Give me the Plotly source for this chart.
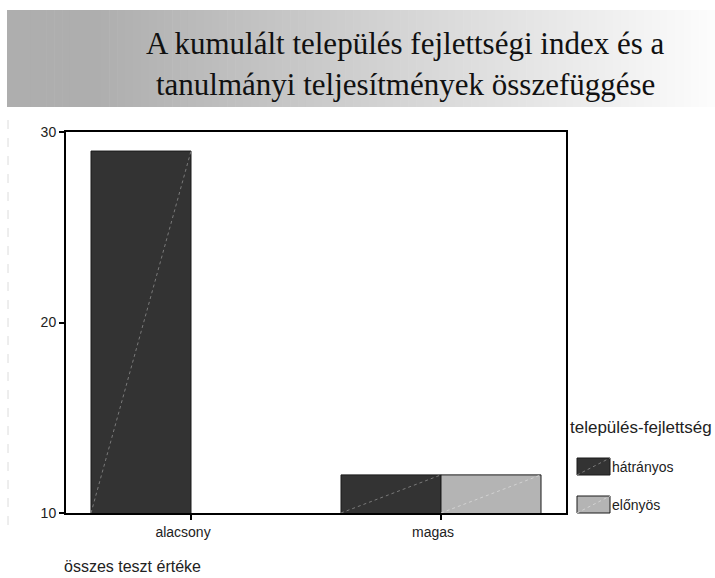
import plotly.graph_objects as go

# ---- data ----
categories = ["alacsony", "magas"]
series_names = ["hátrányos", "előnyös"]
hatranyos = [29, 12]
elonyos = [None, 12]
series_values = [hatranyos, elonyos]
y_ticks = [10, 20, 30]
y_range = [10, 30]

title_lines = ["A kumulált település fejlettségi index és a",
               "tanulmányi teljesítmények összefüggése"]
legend_title = "település-fejlettség"
footer = "összes teszt értéke"

colors = ["#333333", "#b4b4b4"]
diag_colors = ["#7a7a7a", "#d2d2d2"]

W, H = 715, 578
ML, MR, MT, MB = 66, 149, 132, 65
PW, PH = W - ML - MR, H - MT - MB


def px(x):
    return (x - ML) / PW


def py(y):
    return (H - MB - y) / PH


SANS = "Liberation Sans, Arial, sans-serif"
SERIF = "Liberation Serif, Times New Roman, serif"

fig = go.Figure()
for name, vals, col in zip(series_names, series_values, colors):
    fig.add_trace(go.Bar(
        x=categories, y=vals, name=name,
        marker=dict(color=col, line=dict(color="#1a1a1a", width=1)),
        showlegend=False,
    ))

shapes = []

# gradient banner behind the title
n_strips = 90
bx0, bx1, by0, by1 = 7, 715, 10, 107
for i in range(n_strips):
    t = i / (n_strips - 1)
    if t < 0.12:
        g = 174
    else:
        g = int(174 + (252 - 174) * ((t - 0.12) / 0.88))
    xa = bx0 + (bx1 - bx0) * i / n_strips
    xb = bx0 + (bx1 - bx0) * (i + 1) / n_strips + 0.6
    shapes.append(dict(type="rect", xref="paper", yref="paper",
                       x0=px(xa), x1=px(xb), y0=py(by1), y1=py(by0),
                       fillcolor=f"rgb({g},{g},{g})", line=dict(width=0),
                       layer="below"))

# faint dashed rule along the left edge
shapes.append(dict(type="line", xref="paper", yref="paper",
                   x0=px(8), x1=px(8), y0=py(120), y1=py(530),
                   line=dict(color="#dcdcdc", width=1, dash="dash")))

# diagonal hatch line inside each bar
group_width = 0.8
bar_w = group_width / len(series_names)
for s, vals in enumerate(series_values):
    for c, v in enumerate(vals):
        if v is None:
            continue
        x0 = c - group_width / 2 + s * bar_w
        shapes.append(dict(type="line", xref="x", yref="y",
                           x0=x0, x1=x0 + bar_w, y0=y_range[0], y1=v,
                           line=dict(color=diag_colors[s], width=1, dash="dot")))

# custom legend swatches
sw_x0, sw_x1 = 577, 610
sw_rows = [(458, 475), (496, 513)]
annotations = []
for (ya, yb), col, dcol, name in zip(sw_rows, colors, diag_colors, series_names):
    shapes.append(dict(type="rect", xref="paper", yref="paper",
                       x0=px(sw_x0), x1=px(sw_x1), y0=py(yb), y1=py(ya),
                       fillcolor=col, line=dict(color="#1a1a1a", width=1)))
    shapes.append(dict(type="line", xref="paper", yref="paper",
                       x0=px(sw_x0), x1=px(sw_x1), y0=py(yb), y1=py(ya),
                       line=dict(color=dcol, width=1, dash="dot")))
    annotations.append(dict(xref="paper", yref="paper", x=px(sw_x1),
                            y=py((ya + yb) / 2), text=name, showarrow=False,
                            xanchor="left", yanchor="middle",
                            font=dict(family=SANS, size=14, color="#222")))

annotations.append(dict(xref="paper", yref="paper", x=px(568), y=py(427),
                        text=legend_title, showarrow=False, xanchor="left",
                        yanchor="middle",
                        font=dict(family=SANS, size=17, color="#222")))

for line, yc in zip(title_lines, [44, 84]):
    annotations.append(dict(xref="paper", yref="paper", x=px(405), y=py(yc),
                            text=line, showarrow=False, xanchor="center",
                            yanchor="middle",
                            font=dict(family=SERIF, size=31, color="#111")))

annotations.append(dict(xref="paper", yref="paper", x=px(62), y=py(566),
                        text=footer, showarrow=False, xanchor="left",
                        yanchor="middle",
                        font=dict(family=SANS, size=16, color="#222")))

fig.update_layout(
    width=W, height=H,
    margin=dict(l=ML, r=MR, t=MT, b=MB, pad=0),
    paper_bgcolor="white", plot_bgcolor="white",
    barmode="group", bargap=1 - group_width, bargroupgap=0,
    shapes=shapes, annotations=annotations,
    showlegend=False,
    font=dict(family=SANS, size=14, color="#222"),
)
fig.update_xaxes(
    showline=True, linecolor="black", linewidth=2, mirror=True,
    ticks="outside", ticklen=5, tickwidth=2, tickcolor="black",
    ticklabelshift=-8,
    showgrid=False, tickfont=dict(family=SANS, size=14, color="#222"),
)
fig.update_yaxes(
    range=y_range, tickvals=y_ticks, showline=True, linecolor="black",
    linewidth=2, mirror=True, ticks="outside", ticklen=5, tickwidth=2,
    tickcolor="black", showgrid=False, zeroline=False,
    tickfont=dict(family=SANS, size=14, color="#222"),
)

fig.write_html("out.html")
